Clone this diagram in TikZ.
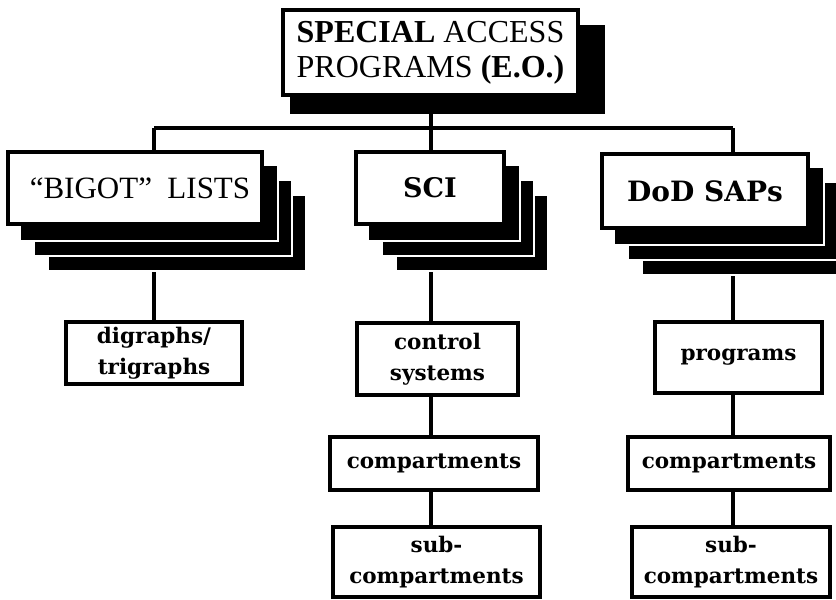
\documentclass[tikz,border=0pt]{standalone}
\usepackage{fontspec}
\setmainfont{Liberation Serif}
\newfontfamily\sapfont{DejaVu Serif}
\usetikzlibrary{backgrounds}

\begin{document}
\begin{tikzpicture}[x=1pt,y=-1pt,
    box/.style={draw,fill=white,line width=3.5pt,inner sep=0pt,align=center},
    lowbox/.style={box,font=\sapfont\bfseries\fontsize{21.5}{31}\selectfont},
    link/.style={line width=3.2pt},
    card/.style={fill=black,draw=white,line width=1.6pt}]
  \useasboundingbox (0,0) rectangle (836,600);

  % top of the tree
  \node[box,minimum width=295pt,minimum height=85pt,font=\fontsize{32}{35}\selectfont]
    (sap) at (430.5,52.5) {\textbf{SPECIAL} ACCESS\\PROGRAMS \textbf{(E.O.)}};

  % the three kinds
  \node[box,minimum width=254pt,minimum height=72pt,font=\fontsize{31}{34}\selectfont]
    (bigot) at (135,188) {\hspace{10pt}“BIGOT”\ \ LISTS};
  \node[box,minimum width=148pt,minimum height=72pt,font=\sapfont\bfseries\fontsize{27}{30}\selectfont]
    (sci) at (430,188) {SCI};
  \node[box,minimum width=206pt,minimum height=74pt,font=\sapfont\bfseries\fontsize{28}{30}\selectfont]
    (dod) at (705,191) {DoD SAPs};

  % second row
  \node[lowbox,minimum width=176pt,minimum height=62pt] (digraphs) at (154,353) {digraphs/\\trigraphs};
  \node[lowbox,minimum width=161pt,minimum height=72pt] (control) at (437.5,359) {control\\systems};
  \node[lowbox,minimum width=167pt,minimum height=71pt] (programs) at (738.5,357.5) {programs};

  % compartments
  \node[lowbox,minimum width=208pt,minimum height=53pt] (compsci) at (434,463.5) {compartments};
  \node[lowbox,minimum width=202pt,minimum height=53pt] (compdod) at (729,463.5) {compartments};

  % sub-compartments
  \node[lowbox,minimum width=207pt,minimum height=70pt] (subsci) at (436.5,562) {sub-\\compartments};
  \node[lowbox,minimum width=198pt,minimum height=70pt] (subdod) at (731,562) {sub-\\compartments};

  \coordinate (c1) at (154,128);
  \coordinate (c2) at (431,128);
  \coordinate (c3) at (733,128);

  \begin{pgfonlayer}{background}
    % connectors
    \draw[link] (c1) -- (c3);
    \draw[link] (sap.south -| c2) -- (c2);
    \draw[link] (c1) -- (c1 |- digraphs.north);
    \draw[link] (c2) -- (c2 |- subsci.north);
    \draw[link] (c3) -- (c3 |- subdod.north);

    % stacked cards
    \foreach \n in {bigot,sci,dod}
      \foreach \k in {3,2,1}
        \filldraw[card] ([shift={(\k*14pt,-\k*15pt)}]\n.north west)
          rectangle ([shift={(\k*14pt,-\k*15pt)}]\n.south east);
    \fill ([shift={(9pt,-17pt)}]sap.north west) rectangle ([shift={(25pt,-17pt)}]sap.south east);
  \end{pgfonlayer}
\end{tikzpicture}
\end{document}
